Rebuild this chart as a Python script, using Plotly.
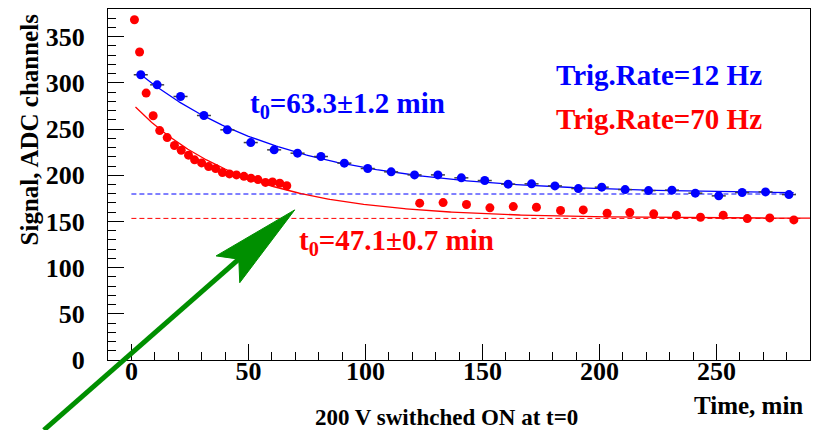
import numpy as np
import plotly.graph_objects as go

# ---------------- data ----------------
blue_t = [4, 11, 21, 31, 41, 51, 61, 71, 81, 91, 101, 111, 121, 131, 141,
          151, 161, 171, 181, 191, 201, 211, 221, 231, 241, 251, 261, 271, 281]
blue_v = [308.8, 297.9, 285.3, 264.7, 249.2, 235.4, 227.5, 223.9, 220.3, 213.1,
          207.3, 203.7, 200.4, 200.4, 197.2, 194.3, 190.4, 190.7, 188.5, 185.6,
          187.1, 184.5, 183.4, 183.9, 180.6, 177.7, 181.3, 182.0, 179.1]
blue_terr = 3.0

red_t = [1.3, 3.5, 6.3, 9.3, 12.1, 15.3, 18.4, 21.3, 24.4, 27.0, 30.0, 33.0,
         36.0, 38.9, 41.9, 44.9, 48.1, 51.1, 54.1, 57.3, 60.3, 63.4, 66.4,
         123.2, 133.2, 143.2, 153.2, 163.2, 173.1, 183.4, 193.1, 203.3, 213.0,
         223.2, 232.9, 243.2, 252.9, 263.2, 272.8, 283.1]
red_v = [368.4, 333.4, 289.0, 264.4, 248.4, 240.8, 232.2, 227.0, 221.8, 216.7,
         213.4, 209.4, 207.2, 202.9, 201.5, 200.4, 198.8, 196.9, 195.3, 192.3,
         192.8, 191.4, 188.6,
         169.8, 170.4, 168.3, 164.7, 166.1, 165.4, 161.8, 162.5, 158.9, 159.6,
         158.2, 156.8, 154.6, 156.8, 153.1, 153.8, 151.7]

# exponential fit parameters: v = base + amp * exp(-t / t0)
blue_fit = dict(base=179.7, amp=137.7, t0=63.3, t_start=3.0, t_end=283.0)
red_fit = dict(base=153.3, amp=125.1, t0=47.1, t_start=1.75, t_end=290.0)

blue_dash_end = 284.0
red_dash_end = 286.0

x_range = [-10, 290]
y_range = [0, 380]

# arrow (data units): tail, notch, tip, head corners
arrow_tail = (-37.4, -75.8)
arrow_notch = (45.9, 109.2)
arrow_tip = (69.8, 162.5)
arrow_c1 = (36.2, 112.7)
arrow_c2 = (46.3, 83.7)

BLUE = "#0000ff"
RED = "#ff0000"
GREEN = "#008f00"
FONT = "Liberation Serif"


def fit_curve(p):
    t = np.linspace(p["t_start"], p["t_end"], 400)
    return t, p["base"] + p["amp"] * np.exp(-t / p["t0"])


def to_paper(pt):
    return ((pt[0] - x_range[0]) / (x_range[1] - x_range[0]),
            (pt[1] - y_range[0]) / (y_range[1] - y_range[0]))


fig = go.Figure()

# dashed asymptotes
fig.add_trace(go.Scatter(x=[0, blue_dash_end], y=[blue_fit["base"]] * 2, mode="lines",
                         line=dict(color=BLUE, width=1, dash="5px,3px"), hoverinfo="skip"))
fig.add_trace(go.Scatter(x=[0, red_dash_end], y=[red_fit["base"]] * 2, mode="lines",
                         line=dict(color=RED, width=1, dash="5px,3px"), hoverinfo="skip"))

# fits
bt, bv = fit_curve(blue_fit)
rt, rv = fit_curve(red_fit)
fig.add_trace(go.Scatter(x=bt, y=bv, mode="lines", line=dict(color=BLUE, width=1.3)))
fig.add_trace(go.Scatter(x=rt, y=rv, mode="lines", line=dict(color=RED, width=1.3)))

# data points
fig.add_trace(go.Scatter(x=blue_t, y=blue_v, mode="markers",
                         marker=dict(color=BLUE, size=9, line=dict(width=0)),
                         error_x=dict(type="constant", value=blue_terr, color="#404040",
                                      thickness=1.5, width=0)))
fig.add_trace(go.Scatter(x=red_t, y=red_v, mode="markers",
                         marker=dict(color=RED, size=9, line=dict(width=0))))

axis_common = dict(
    showgrid=False, zeroline=False, showline=True, mirror=True,
    linecolor="black", linewidth=1.2,
    ticks="inside", ticklen=16, tickwidth=1.2, tickcolor="black",
    tick0=0, dtick=50,
)

fig.update_xaxes(range=x_range, ticklabelstandoff=-12,
                 tickfont=dict(family=FONT, size=26, color="black", weight="bold"),
                 minor=dict(ticks="inside", ticklen=8, tickwidth=1, tickcolor="black", dtick=10),
                 **axis_common)
fig.update_yaxes(range=y_range, ticklabelstandoff=17,
                 tickfont=dict(family=FONT, size=26, color="black", weight="bold"),
                 minor=dict(ticks="inside", ticklen=8, tickwidth=1, tickcolor="black", dtick=10),
                 **axis_common)

ann = []
def txt(x, y, s, color, size, xanchor="left", xref="x", yref="y", angle=0, yanchor="middle"):
    ann.append(dict(x=x, y=y, xref=xref, yref=yref, text="<b>" + s + "</b>", showarrow=False,
                    xanchor=xanchor, yanchor=yanchor, textangle=angle,
                    font=dict(family=FONT, size=size, color=color)))

txt(50, 276, "t<sub>0</sub>=63.3±1.2 min", BLUE, 29)
txt(70.6, 128, "t<sub>0</sub>=47.1±0.7 min", RED, 29)
txt(180.4, 309, "Trig.Rate=12 Hz", BLUE, 29)
txt(180.4, 261, "Trig.Rate=70 Hz", RED, 29)
txt(-0.112, 0.658, "Signal, ADC channels", "black", 25, xanchor="center",
    xref="paper", yref="paper", angle=-90)
txt(0.9929, -0.131, "Time, min", "black", 25, xanchor="right", xref="paper", yref="paper")
txt(0.4815, -0.165, "200 V swithched ON at t=0", "black", 23, xanchor="center",
    xref="paper", yref="paper")

# green arrow as shapes
tail_p = to_paper(arrow_tail)
notch_p = to_paper(arrow_notch)
tip_p = to_paper(arrow_tip)
c1_p = to_paper(arrow_c1)
c2_p = to_paper(arrow_c2)
shapes = [
    dict(type="line", xref="paper", yref="paper", x0=tail_p[0], y0=tail_p[1],
         x1=notch_p[0], y1=notch_p[1], line=dict(color=GREEN, width=5)),
    dict(type="path", xref="paper", yref="paper",
         path="M {} {} L {} {} L {} {} L {} {} Z".format(tip_p[0], tip_p[1], c1_p[0], c1_p[1],
                                                         notch_p[0], notch_p[1], c2_p[0], c2_p[1]),
         fillcolor=GREEN, line=dict(color=GREEN, width=1)),
]

fig.update_layout(
    width=815, height=430,
    margin=dict(l=108, r=5, t=9, b=70),
    paper_bgcolor="white", plot_bgcolor="white",
    showlegend=False,
    annotations=ann, shapes=shapes,
)

fig.write_html("out.html")
